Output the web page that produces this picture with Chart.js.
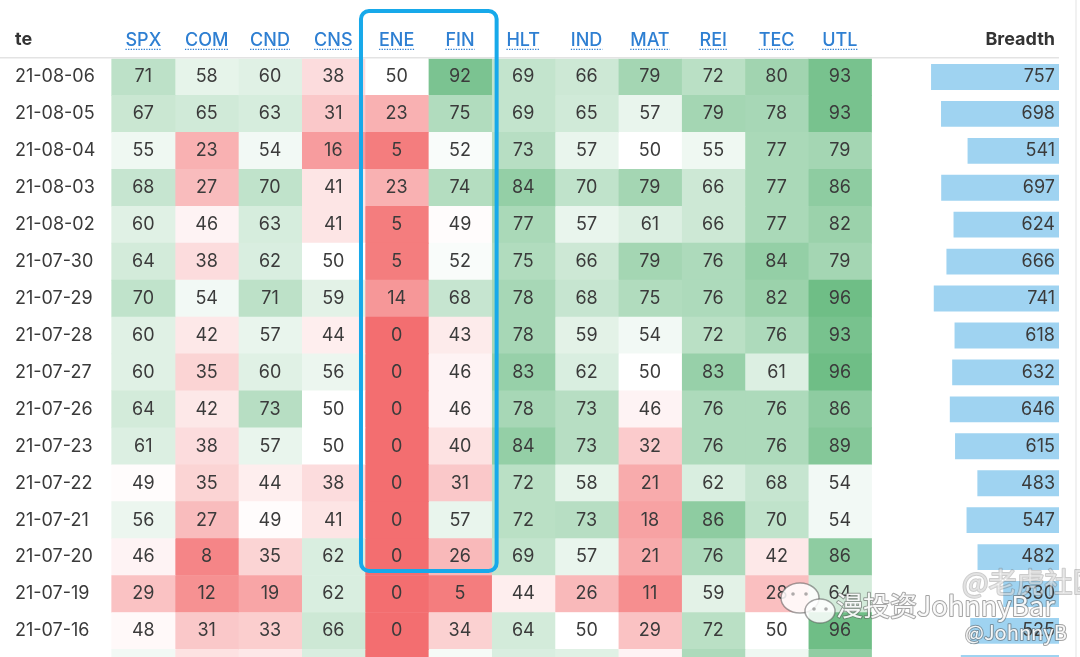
<!DOCTYPE html>
<html>
<head>
<meta charset="utf-8">
<script src="https://cdn.jsdelivr.net/npm/chart.js@4.4.1/dist/chart.umd.min.js"></script>
<style>
  html, body { margin: 0; padding: 0; background: #fff; overflow: hidden; }
  #wrap { width: 1080px; height: 657px; position: relative; }
</style>
</head>
<body>
<div id="wrap"><canvas id="heat"></canvas></div>
<script>
// rows, newest first (the last row is only partly visible at the bottom edge)
const dates = ['21-08-06', '21-08-05', '21-08-04', '21-08-03', '21-08-02', '21-07-30', '21-07-29', '21-07-28',
               '21-07-27', '21-07-26', '21-07-23', '21-07-22', '21-07-21', '21-07-20', '21-07-19', '21-07-16', '21-07-15'];
const sectors = ['SPX', 'COM', 'CND', 'CNS', 'ENE', 'FIN', 'HLT', 'IND', 'MAT', 'REI', 'TEC', 'UTL'];

const spx = [71, 67, 55, 68, 60, 64, 70, 60, 60, 64, 61, 49, 56, 46, 29, 48, 54];
const com = [58, 65, 23, 27, 46, 38, 54, 42, 35, 42, 38, 35, 27, 8, 12, 31, 40];
const cnd = [60, 63, 54, 70, 63, 62, 71, 57, 60, 73, 57, 44, 49, 35, 19, 33, 42];
const cns = [38, 31, 16, 41, 41, 50, 59, 44, 56, 50, 50, 38, 41, 62, 62, 66, 62];
const ene = [50, 23, 5, 23, 5, 5, 14, 0, 0, 0, 0, 0, 0, 0, 0, 0, 0];
const fin = [92, 75, 52, 74, 49, 52, 68, 43, 46, 46, 40, 31, 57, 26, 5, 34, 53];
const hlt = [69, 69, 73, 84, 77, 75, 78, 78, 83, 78, 84, 72, 72, 69, 44, 64, 62];
const ind = [66, 65, 57, 70, 57, 66, 68, 59, 62, 73, 73, 58, 73, 57, 26, 50, 60];
const mat = [79, 57, 50, 79, 61, 79, 75, 54, 50, 46, 32, 21, 18, 21, 11, 29, 46];
const rei = [72, 79, 55, 66, 66, 76, 76, 72, 83, 76, 76, 62, 86, 76, 59, 72, 76];
const tec = [80, 78, 77, 77, 77, 84, 82, 76, 61, 76, 76, 68, 70, 42, 28, 50, 55];
const utl = [93, 93, 79, 86, 82, 79, 96, 93, 96, 86, 89, 54, 54, 86, 64, 96, 85];
const breadth = [757, 698, 541, 697, 624, 666, 741, 618, 632, 646, 615, 483, 547, 482, 330, 525, 581];

const sectorValues = [spx, com, cnd, cns, ene, fin, hlt, ind, mat, rei, tec, utl];

const FONT = 'Inter, "Noto Sans", sans-serif';
Chart.defaults.font.family = FONT;

// red - white - green, white at 50
const lowColor = [243, 110, 112];
const highColor = [98, 184, 124];
function cellColor(v) {
    const t = Math.min(Math.abs(v - 50) / 50, 1);
    const c = v < 50 ? lowColor : highColor;
    const mix = a => Math.round(255 + (a - 255) * t);
    return 'rgb(' + mix(c[0]) + ',' + mix(c[1]) + ',' + mix(c[2]) + ')';
}

const datasets = sectorValues.map((vals, c) => ({
    label: sectors[c],
    data: vals.map((v, i) => ({ x: [c, c + 1], y: i })),
    backgroundColor: vals.map(cellColor),
    xAxisID: 'x',
    grouped: false,
    barPercentage: 1,
    categoryPercentage: 1,
    borderWidth: 0
}));
datasets.push({
    label: 'Breadth',
    data: breadth.map((v, i) => ({ x: v, y: i })),
    backgroundColor: '#9fd3f1',
    xAxisID: 'xb',
    grouped: false,
    barPercentage: 0.7,
    categoryPercentage: 1,
    borderWidth: 0
});

function bubble(ctx, cx, cy, rx, ry) {
    ctx.beginPath();
    ctx.ellipse(cx, cy, rx, ry, 0, 0, Math.PI * 2);
    ctx.fill();
    ctx.stroke();
}

const tablePlugin = {
    id: 'tableText',
    afterDraw(chart) {
        const { ctx, chartArea, scales: { x, xb, y } } = chart;
        const top = chartArea.top;
        const right = xb.getPixelForValue(0);
        ctx.save();

        // header rule
        ctx.strokeStyle = '#e3e3e3';
        ctx.lineWidth = 1.5;
        ctx.beginPath();
        ctx.moveTo(0, top - 0.75);
        ctx.lineTo(right, top - 0.75);
        ctx.stroke();

        // faint frame line on the right
        ctx.strokeStyle = '#ededed';
        ctx.beginPath();
        ctx.moveTo(1076, 0);
        ctx.lineTo(1076, chart.height);
        ctx.stroke();

        // header texts
        ctx.fillStyle = '#333';
        ctx.font = 'bold 18px ' + FONT;
        ctx.textBaseline = 'middle';
        ctx.textAlign = 'left';
        ctx.fillText('te', 15, top - 19);
        ctx.textAlign = 'right';
        ctx.fillText('Breadth', right - 4, top - 19);

        // dotted underline under sector names
        ctx.font = '500 18px ' + FONT;
        ctx.strokeStyle = '#2e7fd2';
        ctx.lineWidth = 1.3;
        ctx.setLineDash([1.3, 1.3]);
        sectors.forEach((name, c) => {
            const cx = x.getPixelForValue(c + 0.5);
            const w = ctx.measureText(name).width;
            ctx.beginPath();
            ctx.moveTo(cx - w / 2, top - 9.2);
            ctx.lineTo(cx + w / 2, top - 9.2);
            ctx.stroke();
        });
        ctx.setLineDash([]);

        // cell values
        ctx.font = '18px ' + FONT;
        ctx.fillStyle = '#3b3b3b';
        ctx.textAlign = 'center';
        sectorValues.forEach((vals, c) => {
            vals.forEach((v, i) => {
                ctx.fillText(String(v), x.getPixelForValue(c + 0.5), y.getPixelForValue(i));
            });
        });
        ctx.textAlign = 'right';
        breadth.forEach((v, i) => {
            ctx.fillText(String(v), right - 4, y.getPixelForValue(i));
        });

        // highlight box around ENE / FIN
        const bx0 = x.getPixelForValue(4) - 4;
        const bx1 = x.getPixelForValue(6) + 5;
        const by0 = top - 47.5;
        const by1 = y.getPixelForValue(13.5) - 4.5;
        ctx.strokeStyle = '#17a9ea';
        ctx.lineWidth = 4;
        ctx.beginPath();
        ctx.roundRect(bx0, by0, bx1 - bx0, by1 - by0, 8);
        ctx.stroke();

        // watermark
        ctx.lineJoin = 'round';
        ctx.lineWidth = 1.5;
        ctx.strokeStyle = 'rgba(90,90,90,0.55)';
        ctx.fillStyle = 'rgba(255,255,255,0.85)';
        bubble(ctx, 800, 598, 19, 15);
        bubble(ctx, 820, 611, 15, 12);
        ctx.fillStyle = 'rgba(120,120,120,0.6)';
        [[793, 594], [806, 594], [814, 609], [826, 609]].forEach(p => {
            ctx.beginPath();
            ctx.arc(p[0], p[1], 1.8, 0, Math.PI * 2);
            ctx.fill();
        });

        ctx.textAlign = 'left';
        ctx.font = '28px "Noto Sans CJK SC", sans-serif';
        ctx.lineWidth = 2;
        ctx.strokeStyle = 'rgba(110,110,110,0.35)';
        ctx.fillStyle = 'rgba(255,255,255,0.45)';
        ctx.strokeText('@老虎社区', 962, 582);
        ctx.fillText('@老虎社区', 962, 582);
        ctx.strokeStyle = 'rgba(90,90,90,0.55)';
        ctx.fillStyle = 'rgba(255,255,255,0.92)';
        ctx.font = '27px "Noto Sans CJK SC", sans-serif';
        ctx.strokeText('漫投资JohnnyBar', 836, 606);
        ctx.fillText('漫投资JohnnyBar', 836, 606);
        ctx.font = '20px "Noto Sans CJK SC", sans-serif';
        ctx.strokeText('@JohnnyB', 965, 632);
        ctx.fillText('@JohnnyB', 965, 632);

        ctx.restore();
    }
};

new Chart(document.getElementById('heat'), {
    type: 'bar',
    data: { labels: dates, datasets: datasets },
    options: {
        indexAxis: 'y',
        responsive: true,
        maintainAspectRatio: false,
        animation: false,
        layout: { padding: 0 },
        plugins: {
            legend: { display: false },
            tooltip: { enabled: false }
        },
        scales: {
            x: {
                type: 'linear',
                position: 'top',
                offset: false,
                min: -1.764,
                max: 15.292,
                grid: { display: false, offset: false },
                border: { display: false },
                afterBuildTicks: s => { s.ticks = sectors.map((n, i) => ({ value: i + 0.5 })); },
                afterFit: s => { s.height = 58.5; s.paddingLeft = 0; s.paddingRight = 0; },
                ticks: {
                    callback: (v, i) => sectors[i],
                    color: '#2e7fd2',
                    font: { size: 18, weight: '500' },
                    padding: -1,
                    autoSkip: false,
                    maxRotation: 0
                }
            },
            xb: {
                type: 'linear',
                reverse: true,
                offset: false,
                min: -124.3,
                max: 6266.2,
                display: false
            },
            y: {
                type: 'linear',
                position: 'left',
                reverse: true,
                offset: false,
                min: -0.5,
                max: 15.706,
                grid: { display: false, offset: false },
                border: { display: false },
                afterBuildTicks: s => { s.ticks = dates.map((d, i) => ({ value: i })); },
                afterFit: s => { s.width = 0; s.paddingTop = 0; s.paddingBottom = 0; },
                ticks: {
                    mirror: true,
                    padding: 15,
                    crossAlign: 'near',
                    callback: (v, i) => dates[i],
                    color: '#3a3a3a',
                    font: { size: 18 },
                    autoSkip: false
                }
            }
        }
    },
    plugins: [tablePlugin]
});
</script>
</body>
</html>
